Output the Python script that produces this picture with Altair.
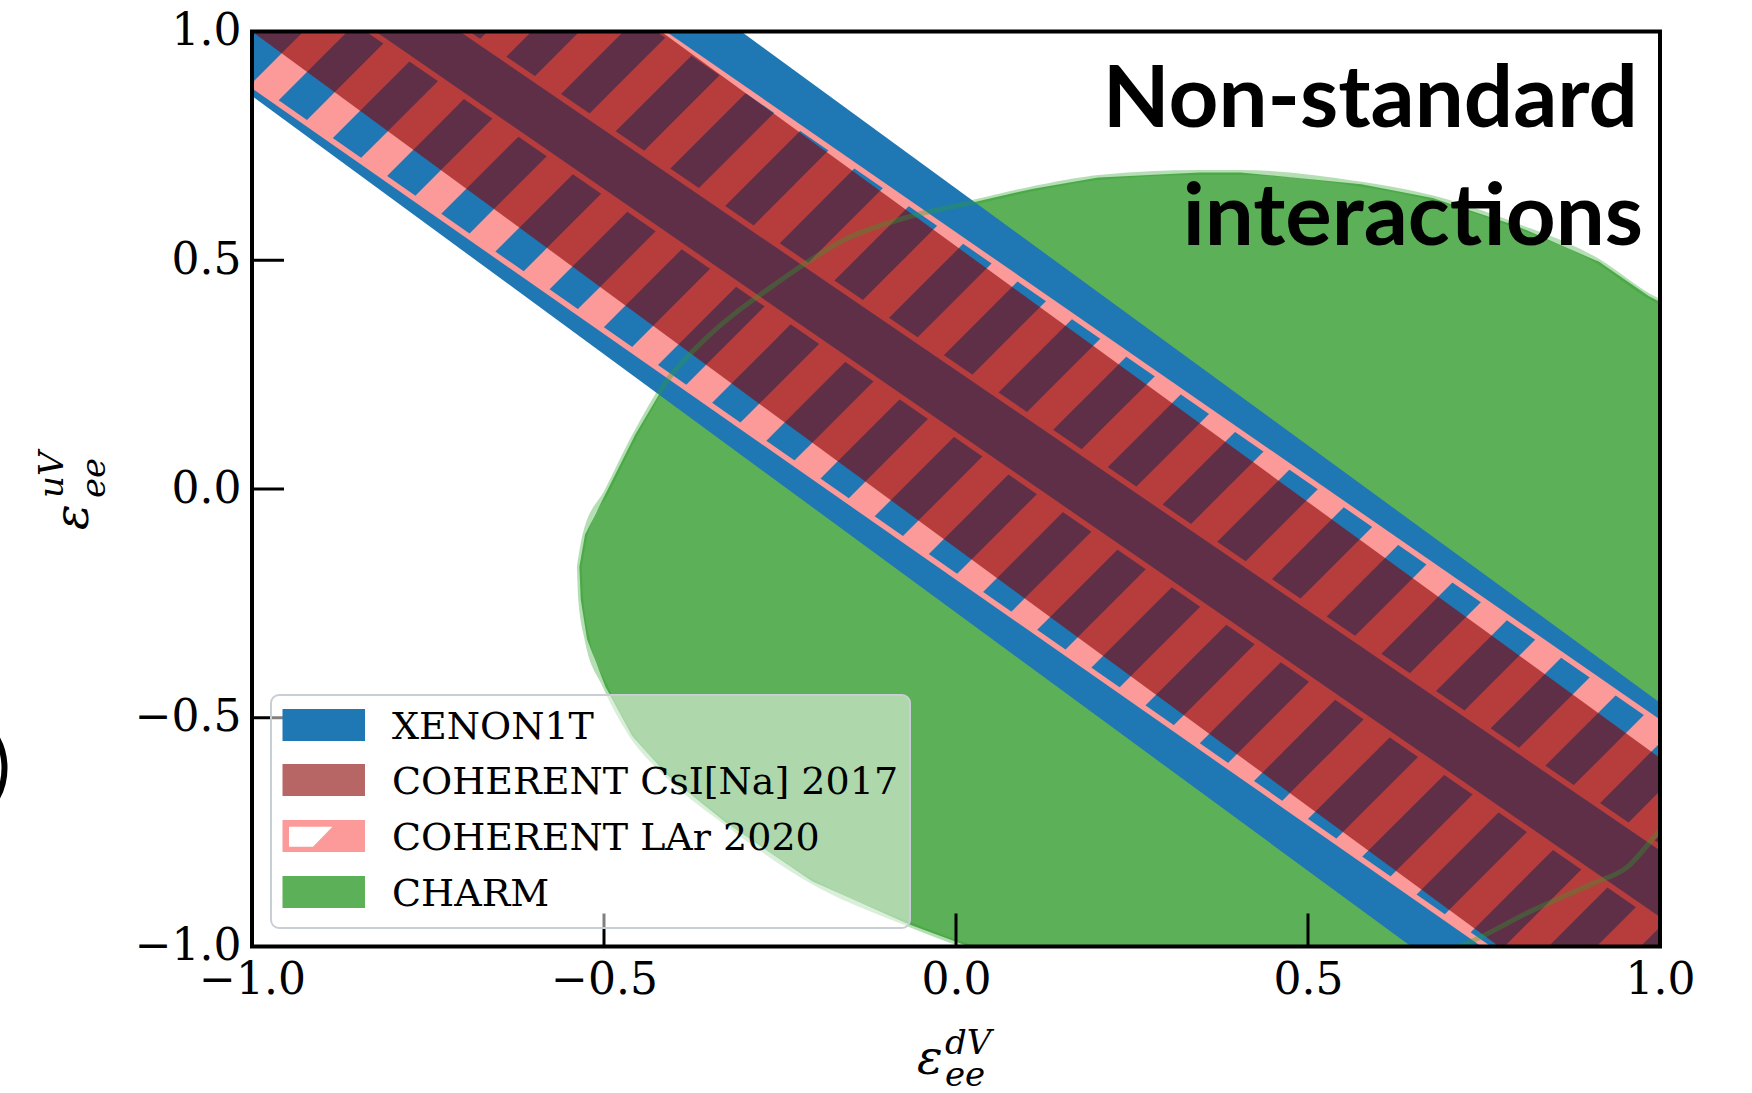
import altair as alt
import numpy as np
import pandas as pd

# ---------------- values ----------------
# straight band edges: eps_uV at eps_dV = -1 and at eps_dV = +1
XENON_UPPER = [1.781, -0.467]
XENON_LOWER = [0.859, -1.399]
CSI_UPPER = [1.650, -0.588]
CSI_LOWER = [1.000, -1.258]
LAR_UPPER_OUTER = [1.619, -0.511]
LAR_UPPER_INNER = [1.317, -0.783]
LAR_LOWER_INNER = [1.179, -0.943]
LAR_LOWER_OUTER = [0.883, -1.265]

# CHARM allowed region boundary (upper and lower branches)
CHARM_TOP_X = [-0.535, -0.527, -0.496, -0.456, -0.409, -0.366, -0.252, -0.154, -0.067, 0.028,
               0.108, 0.203, 0.346, 0.404, 0.576, 0.677, 0.795, 0.913, 0.984, 1.000, 1.100]
CHARM_TOP_Y = [-0.170, -0.100, -0.005, 0.118, 0.240, 0.313, 0.453, 0.548, 0.595, 0.628,
               0.656, 0.681, 0.692, 0.692, 0.666, 0.636, 0.576, 0.497, 0.422, 0.409, 0.300]
CHARM_BOT_X = [-0.535, -0.533, -0.524, -0.498, -0.460, -0.409, -0.328, -0.204, -0.069, 0.018,
               0.200, 0.450, 0.711, 0.819, 0.905, 0.953, 1.000, 1.100]
CHARM_BOT_Y = [-0.170, -0.242, -0.329, -0.432, -0.540, -0.627, -0.728, -0.858, -0.950, -1.000,
               -1.050, -1.070, -1.002, -0.921, -0.862, -0.827, -0.746, -0.600]

TICK_VALUES = [-1.0, -0.5, 0.0, 0.5, 1.0]
LEGEND_LABELS = ["XENON1T", "COHERENT CsI[Na] 2017", "COHERENT LAr 2020", "CHARM"]
TITLE_LINES = ["Non-standard", "interactions"]

# ---------------- style / layout ----------------
BLUE = "#1f77b4"
PINK = "#fb9a99"
CSI_COLOR = "#8b0000"
GREEN = "#5cb057"
LEGEND_SWATCH = [BLUE, "#b86566", PINK, GREEN]

W, H = 1408, 915
PAD = {"left": 252, "top": 31.5, "right": 92, "bottom": 146.5}

HATCH_PERIOD = 92.0   # px, measured along x+y in screen space
HATCH_WIDTH = 44.0
HATCH_PHASE = 143.5

XS = alt.Scale(domain=[-1, 1], nice=False, zero=False)
YS = alt.Scale(domain=[-1, 1], nice=False, zero=False)
AX_COMMON = dict(values=TICK_VALUES, format=".1f", title=None, ticks=False, tickSize=0,
                 domain=False, grid=False, labelFont="DejaVu Serif", labelFontSize=44,
                 labelColor="black", labelFlush=False, labelOverlap=False)
XAX = alt.Axis(labelPadding=12, **AX_COMMON)
YAX = alt.Axis(labelPadding=11, **AX_COMMON)


def X(f):
    return alt.X(f"{f}:Q", scale=XS, axis=XAX)


def Y(f):
    return alt.Y(f"{f}:Q", scale=YS, axis=YAX)


def edge_ab(edge):
    yl, yr = edge
    b = (yr - yl) / 2.0
    return yl + b, b


def edge_y(edge, x):
    a, b = edge_ab(edge)
    return a + b * x


def px2x(rx):
    return -1 + 2.0 * rx / W


def px2y(ry):
    return 1 - 2.0 * ry / H


def band_df(lo, hi):
    xs = [-1.2, 1.2]
    return pd.DataFrame({"x": xs,
                         "y": [edge_y(hi, x) for x in xs],
                         "y2": [edge_y(lo, x) for x in xs]})


def poly_to_area(pts):
    xs = sorted(set(round(p[0], 10) for p in pts))
    rows = []
    n = len(pts)
    for x in xs:
        ys = []
        for i in range(n):
            (x1, y1), (x2, y2) = pts[i], pts[(i + 1) % n]
            lo, hi = min(x1, x2), max(x1, x2)
            if lo - 1e-9 <= x <= hi + 1e-9:
                if abs(x2 - x1) < 1e-12:
                    ys += [y1, y2]
                else:
                    ys.append(y1 + (y2 - y1) * (x - x1) / (x2 - x1))
        rows.append((x, min(ys), max(ys)))
    return rows


def cross(edge, c):
    a, b = edge_ab(edge)
    k = W / H
    s0 = 1 - 2.0 * c / H + k
    x = (a - s0) / (k - b)
    return (x, a + b * x)


def stripes(lo, hi, tag):
    out = []
    for k in range(-4, 32):
        c1 = HATCH_PHASE + HATCH_PERIOD * k
        c2 = c1 + HATCH_WIDTH
        pts = [cross(lo, c1), cross(lo, c2), cross(hi, c2), cross(hi, c1)]
        xs = [p[0] for p in pts]
        ys = [p[1] for p in pts]
        if min(xs) > 1.05 or max(xs) < -1.05 or min(ys) > 1.05 or max(ys) < -1.05:
            continue
        for x, ya, yb in poly_to_area(pts):
            out.append({"x": x, "y": yb, "y2": ya, "sid": f"{tag}{k}"})
    return out


# ---------------- layers ----------------
layers = []

# CHARM fill
gx = sorted(set(CHARM_TOP_X) | set(CHARM_BOT_X))
charm_df = pd.DataFrame({"x": gx,
                         "y": np.interp(gx, CHARM_TOP_X, CHARM_TOP_Y),
                         "y2": np.interp(gx, CHARM_BOT_X, CHARM_BOT_Y)})
layers.append(alt.Chart(charm_df).mark_area(color=GREEN, opacity=1, clip=True)
              .encode(x=X("x"), y=Y("y"), y2=alt.Y2("y2:Q")))

# XENON1T
layers.append(alt.Chart(band_df(XENON_LOWER, XENON_UPPER))
              .mark_area(color=BLUE, opacity=1, clip=True)
              .encode(x=X("x"), y=Y("y"), y2=alt.Y2("y2:Q")))

# COHERENT LAr hatch
stripe_rows = stripes(LAR_UPPER_INNER, LAR_UPPER_OUTER, "a") + stripes(LAR_LOWER_OUTER, LAR_LOWER_INNER, "b")
layers.append(alt.Chart(pd.DataFrame(stripe_rows)).mark_area(color=PINK, opacity=1, clip=True)
              .encode(x=X("x"), y=Y("y"), y2=alt.Y2("y2:Q"), detail="sid:N"))

edge_rows = []
for name, e in [("uo", LAR_UPPER_OUTER), ("ui", LAR_UPPER_INNER),
                ("li", LAR_LOWER_INNER), ("lo", LAR_LOWER_OUTER)]:
    for x in [-1.2, 1.2]:
        edge_rows.append({"x": x, "y": edge_y(e, x), "eid": name})
layers.append(alt.Chart(pd.DataFrame(edge_rows)).mark_line(color=PINK, strokeWidth=5.5, clip=True)
              .encode(x=X("x"), y=Y("y"), detail="eid:N"))

# COHERENT CsI[Na]
layers.append(alt.Chart(band_df(CSI_LOWER, CSI_UPPER))
              .mark_area(color=CSI_COLOR, opacity=0.6, clip=True)
              .encode(x=X("x"), y=Y("y"), y2=alt.Y2("y2:Q")))

# CHARM outline
loop_x = list(CHARM_TOP_X) + list(CHARM_BOT_X[::-1])
loop_y = list(CHARM_TOP_Y) + list(CHARM_BOT_Y[::-1])
outline_df = pd.DataFrame({"x": loop_x, "y": loop_y, "i": range(len(loop_x))})
layers.append(alt.Chart(outline_df).mark_line(color="#2ca02c", strokeWidth=5, opacity=0.35, clip=True,
                                              interpolate="monotone")
              .encode(x=X("x"), y=Y("y"), order="i:Q"))

# inward ticks
tick_df = pd.DataFrame({"v": TICK_VALUES})
layers.append(alt.Chart(tick_df).mark_rule(color="black", strokeWidth=3)
              .encode(x=X("v"), y=alt.value(H), y2=alt.value(H - 33)))
layers.append(alt.Chart(tick_df).mark_rule(color="black", strokeWidth=3)
              .encode(y=Y("v"), x=alt.value(0), x2=alt.value(32)))

one = pd.DataFrame({"d": [0]})

# legend
layers.append(alt.Chart(one).mark_rect(cornerRadius=8, fill="white", fillOpacity=0.5,
                                       stroke="#c9ced6", strokeWidth=2)
              .encode(x=alt.value(19), x2=alt.value(658), y=alt.value(663.5), y2=alt.value(896.5)))
row_top = [677.5, 732.5, 788.5, 844.5]
for lab, col, yt in zip(LEGEND_LABELS, LEGEND_SWATCH, row_top):
    layers.append(alt.Chart(one).mark_rect(color=col, opacity=1)
                  .encode(x=alt.value(30.5), x2=alt.value(113), y=alt.value(yt), y2=alt.value(yt + 32)))
    layers.append(alt.Chart(one).mark_text(align="left", baseline="alphabetic", font="DejaVu Serif",
                                           fontSize=38, color="black")
                  .encode(x=alt.value(140), y=alt.value(yt + 30), text=alt.value(lab)))
# hatch gap in LAr swatch
hy0, hy1 = row_top[2] + 6.7, row_top[2] + 26.7
gap_df = pd.DataFrame({"x": [px2x(37), px2x(61), px2x(80.4)],
                       "y": [px2y(hy0)] * 3,
                       "y2": [px2y(hy1), px2y(hy1), px2y(hy0)]})
layers.append(alt.Chart(gap_df).mark_area(color="white", opacity=1)
              .encode(x=X("x"), y=Y("y"), y2=alt.Y2("y2:Q")))

# frame
layers.append(alt.Chart(one).mark_rect(filled=False, stroke="black", strokeWidth=4)
              .encode(x=alt.value(0), x2=alt.value(W), y=alt.value(0), y2=alt.value(H)))

# panel title
for txt, xr, yb in zip(TITLE_LINES, [1386, 1391], [95.5, 213.5]):
    layers.append(alt.Chart(one).mark_text(align="right", baseline="alphabetic", font="Lato",
                                           fontWeight="bold", fontSize=87, color="black")
                  .encode(x=alt.value(xr), y=alt.value(yb), text=alt.value(txt)))

# axis titles (epsilon with sub/superscripts)
def it(txt, x, y, size, angle=0):
    m = alt.Chart(one).mark_text(align="left", baseline="alphabetic", font="DejaVu Serif",
                                 fontStyle="italic", fontSize=size, color="black", angle=angle)
    return m.encode(x=alt.value(x), y=alt.value(y), text=alt.value(txt))

layers += [it("ε", 665, 1042, 48), it("dV", 693, 1022, 34), it("ee", 693, 1054, 34)]
layers += [it("ε", -164, 498.5, 48, 270), it("uV", -189, 466.5, 34, 270), it("ee", -147, 466.5, 34, 270)]

# cropped ring at the far left edge
layers.append(alt.Chart(one).mark_point(shape="circle", filled=False, size=15129, strokeWidth=6,
                                        color="black", opacity=1)
              .encode(x=alt.value(-309), y=alt.value(736.5)))

chart = alt.layer(*layers).properties(
    width=W, height=H, padding=PAD, autosize=alt.AutoSizeParams(type="none")
).configure_view(stroke="transparent")

chart.save("out.html", embed_options={"renderer": "svg", "actions": False})
